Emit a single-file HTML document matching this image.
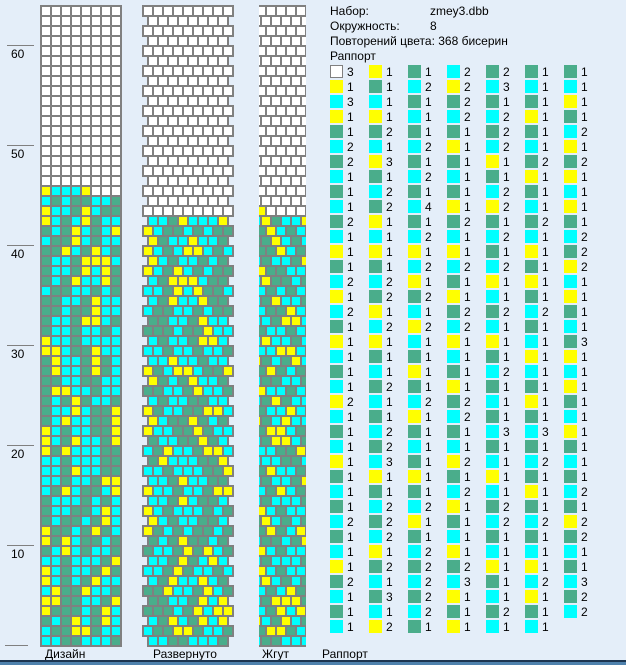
<!DOCTYPE html>
<html><head><meta charset="utf-8">
<style>
html,body{margin:0;padding:0;}
body{width:626px;height:665px;background:#e4eef9;position:relative;overflow:hidden;font-family:"Liberation Sans",sans-serif;font-size:12px;color:#000;}
.t{position:absolute;white-space:nowrap;line-height:14px;}
#bar1{position:absolute;left:0;top:660px;width:626px;height:2px;background:#1c3550;}
#bar2{position:absolute;left:0;top:662px;width:626px;height:3px;background:#4f82ad;}
</style></head><body>
<svg id="s" width="626" height="665" style="position:absolute;left:0;top:0"></svg>
<div class="t" style="left:11px;top:47px">60</div>
<div class="t" style="left:11px;top:147px">50</div>
<div class="t" style="left:11px;top:247px">40</div>
<div class="t" style="left:11px;top:347px">30</div>
<div class="t" style="left:11px;top:447px">20</div>
<div class="t" style="left:11px;top:547px">10</div>
<div class="t" style="left:45px;top:647px">Дизайн</div>
<div class="t" style="left:153px;top:647px">Развернуто</div>
<div class="t" style="left:262px;top:647px">Жгут</div>
<div class="t" style="left:322px;top:647px">Раппорт</div>
<div class="t" style="left:330px;top:4px">Набор:</div>
<div class="t" style="left:430px;top:4px">zmey3.dbb</div>
<div class="t" style="left:330px;top:19px">Окружность:</div>
<div class="t" style="left:430px;top:19px">8</div>
<div class="t" style="left:330px;top:34px">Повторений цвета: 368 бисерин</div>
<div class="t" style="left:330px;top:49px">Раппорт</div>
<div id="rap"></div>
<div id="bar1"></div><div id="bar2"></div>
<script>
var rows=[
"W3 Y1 G1 C2 G2 G1 G1","Y1 G1 C2 Y2 C3 C1 C1","C3 C1 G1 G2 G1 G1 Y1","Y1 Y1 C1 C2 C2 Y1 G1",
"G1 G2 G1 G1 G2 G1 C2","C2 C1 C2 Y1 C2 C1 Y1","G2 Y3 G1 G1 Y1 G2 G2","C1 G1 C2 C1 G1 Y1 Y1",
"G1 C2 G1 G1 C2 G1 C1","C1 G2 C4 Y1 Y2 C1 Y1","G2 Y1 G1 G2 G1 G2 G1","C1 C1 C2 C1 C2 C1 C2",
"Y1 Y1 Y1 Y1 G1 Y1 G2","G1 G1 C2 C2 C2 G1 Y2","C2 C2 Y1 G1 Y1 Y1 C1","Y1 G2 G2 Y1 C1 G1 Y1",
"C2 Y1 C1 G2 G2 C2 G1","G1 C2 Y2 C2 C1 G1 C1","Y1 Y1 C1 Y1 Y1 C1 G3","C1 G1 G1 C1 G1 Y1 Y1",
"G1 C1 Y1 G1 C2 C1 C1","C1 G2 G1 Y1 G1 G1 Y1","Y2 C1 C2 G2 C1 Y1 G1","C1 G1 Y1 C2 G1 G1 C1",
"G1 C2 G1 G1 C3 C3 Y1","C1 G2 C1 C1 G1 G1 G1","Y1 C3 G1 Y2 C1 C2 C1","G1 Y1 Y1 G1 Y1 G1 G1",
"C1 G1 G1 C2 C1 Y1 C2","G1 C2 C2 Y1 G2 G1 G1","C2 G2 Y1 G1 C2 C2 Y2","G1 C2 G1 C1 G1 G1 G2",
"C1 Y1 C2 Y1 C1 C1 C1","Y1 G2 G2 G2 Y1 Y1 G1","G2 C1 C2 C3 G1 C2 C3","C1 G3 G2 Y1 C1 Y1 G2",
"G1 C1 C2 G1 G2 G1 C2","C1 Y2 G1 Y1 C1 C1"];
var col={W:"#ffffff",Y:"#ffff00",G:"#4aad8b",C:"#00ffff"};
var grid=rows.map(function(r){return r.split(" ");});
var h="",seq=[];
for(var c=0;c<7;c++){for(var r=0;r<grid.length;r++){var e=grid[r][c];if(!e)continue;
 var x=330+39*c,y=65+15*r;
 h+='<div style="position:absolute;left:'+x+'px;top:'+y+'px;width:'+(e[0]=="W"?11:13)+'px;height:'+(e[0]=="W"?11:13)+'px;background:'+col[e[0]]+';'+(e[0]=="W"?'border:1px solid #808080;':'')+'"></div>';
 h+='<div class="t" style="left:'+(x+17)+'px;top:'+(y)+'px">'+e.substring(1)+'</div>';
 for(var k=0;k<+e.substring(1);k++)seq.push(e[0]);}}
document.getElementById("rap").innerHTML=h;
var s="",L="#808080";
// ticks
for(var n=0;n<=60;n+=10){var y=645-10*n;s+='<rect x="'+(n==0?5:7)+'" y="'+y+'" width="'+(n==0?23:27)+'" height="1" fill="'+L+'"/>';}
// design
var D={};for(var j=0;j<seq.length;j++){var rr=46-Math.floor(j/8),cc=7-(j%8);D[rr+"_"+cc]=seq[j];}
s+='<rect x="40" y="5" width="82" height="642" fill="'+L+'"/>';
for(var r=1;r<=64;r++)for(var c=0;c<8;c++){var f=D[r+"_"+c]||"W";
 s+='<rect x="'+(42+10*c)+'" y="'+(647-10*r)+'" width="8" height="8" fill="'+col[f]+'"/>';}
// rolled
var rev=seq.slice().reverse().filter(function(v,i){return true;});
var k=0;
for(var r=1;r<=64;r++){var odd=r%2==1;var n=odd?8:9,x0=odd?147:142;
 s+='<rect x="'+x0+'" y="'+(645-10*r)+'" width="'+(n*10+2)+'" height="12" fill="'+L+'"/>';
 for(var c=0;c<n;c++){var f="W";if(r<=43&&k<rev.length){f=rev[k];k++;}
  s+='<rect x="'+(x0+2+10*c)+'" y="'+(647-10*r)+'" width="8" height="8" fill="'+col[f]+'"/>';}}
// zhgut
s+='<clipPath id="cp"><rect x="259" y="0" width="47" height="665"/></clipPath><g clip-path="url(#cp)">';
for(var r=1;r<=64;r++){var sh=(r%2)?-5:0;
 s+='<rect x="'+(255+sh)+'" y="'+(645-10*r)+'" width="62" height="12" fill="'+L+'"/>';
 for(var c=0;c<6;c++){var f="W";if(r<=43){f=D[r+"_"+((c+r)%8)]||"G";}if(r==44&&c==0)f="Y";
  var x=257+sh+10*c;s+='<rect x="'+x+'" y="'+(647-10*r)+'" width="8" height="8" fill="'+col[f]+'"/>';}}
s+='</g>';
document.getElementById("s").innerHTML=s;
</script>
</body></html>
